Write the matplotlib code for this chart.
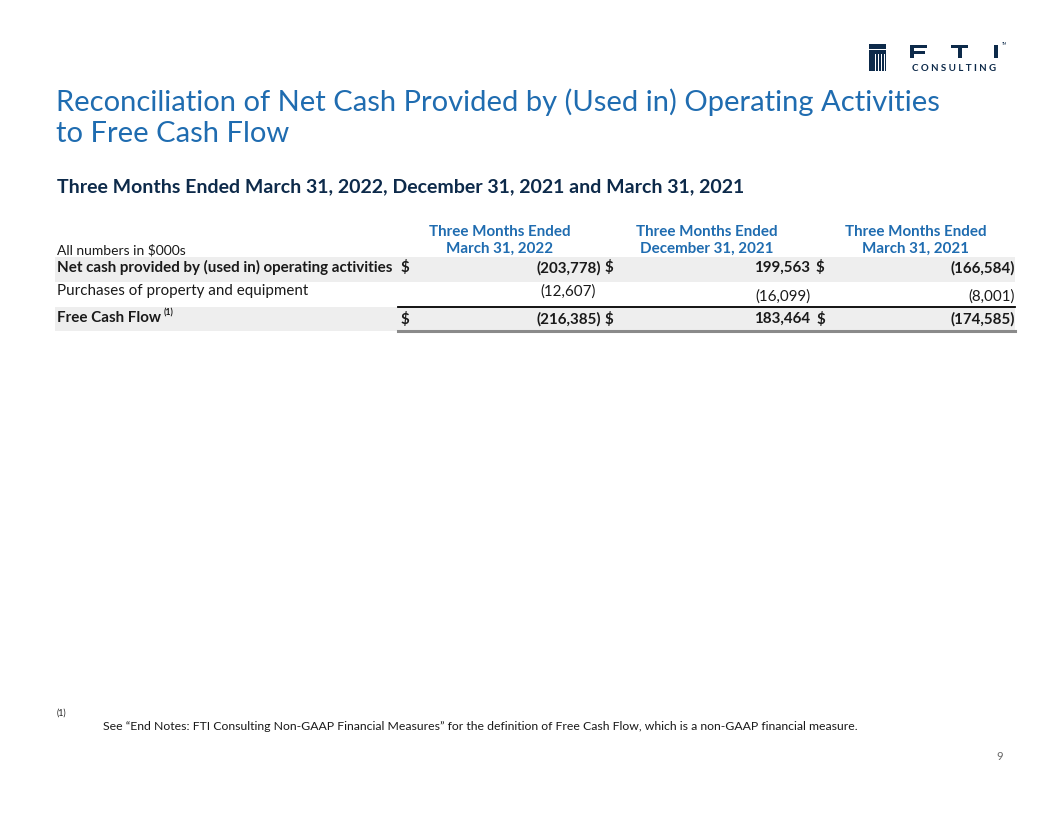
import matplotlib
matplotlib.use("Agg")
import matplotlib.pyplot as plt
from matplotlib.patches import Rectangle

plt.rcParams['font.family'] = ['Lato', 'DejaVu Sans']

# ---- data ----
title_lines = ["Reconciliation of Net Cash Provided by (Used in) Operating Activities",
               "to Free Cash Flow"]
subtitle = "Three Months Ended March 31, 2022, December 31, 2021 and March 31, 2021"
units_label = "All numbers in $000s"
col_headers = ["Three Months Ended\nMarch 31, 2022",
               "Three Months Ended\nDecember 31, 2021",
               "Three Months Ended\nMarch 31, 2021"]
row_labels = ["Net cash provided by (used in) operating activities",
              "Purchases of property and equipment",
              "Free Cash Flow"]
op_cash = [-203778, 199563, -166584]
capex = [-12607, -16099, -8001]
free_cash_flow = [-216385, 183464, -174585]
footnote = ("See \u201cEnd Notes: FTI Consulting Non-GAAP Financial Measures\u201d for the definition "
            "of Free Cash Flow, which is a non-GAAP financial measure.")
page_num = "9"

TITLE_BLUE = "#1f6cb0"
NAVY = "#0d2a4a"
HDR_BLUE = "#1f6cb0"
GRAY = "#eeeeee"
TXT = "#1a1a1a"

W, H = 1056, 816
fig = plt.figure(figsize=(W / 100, H / 100), dpi=100)
ax = fig.add_axes([0, 0, 1, 1])
ax.set_xlim(0, W)
ax.set_ylim(H, 0)
ax.axis('off')


def fmt(v):
    s = f"{abs(v):,}"
    return f"({s})" if v < 0 else s


def rect(x0, y0, x1, y1, c=NAVY):
    ax.add_patch(Rectangle((x0, y0), x1 - x0, y1 - y0, color=c, lw=0))


# title
ax.text(56, 102, title_lines[0], fontsize=21.0, color=TITLE_BLUE, va='center', ha='left')
ax.text(56, 134, title_lines[1], fontsize=21.0, color=TITLE_BLUE, va='center', ha='left')
ax.text(57, 187, subtitle, fontsize=14.0, color=NAVY, fontweight='bold', va='center', ha='left')

# logo (pillar icon + FTI letters)
rect(869, 44, 886, 71)
rect(869, 49, 886, 50.3, 'white')
for i in range(4):
    rect(874.5 + i * 3, 54, 875.7 + i * 3, 71, 'white')
# F
rect(910, 45, 914, 58); rect(910, 45, 927, 48); rect(910, 50.5, 925, 53.5)
# T
rect(951, 45, 968, 48); rect(957.5, 45, 961.5, 58)
# I
rect(994, 45, 998, 58)
ax.text(1005, 44, "TM", fontsize=2.5, color=NAVY, ha='center', va='center')
ax.text(954, 68.5, "C O N S U L T I N G", fontsize=7.0, color=NAVY, fontweight='bold',
        ha='center', va='center')

# table geometry
label_x0 = 55
val_x1 = 1015
line_x0 = 398
row_y = [257, 282, 307]
row_h = [25, 24, 23.5]
row_fill = [True, False, True]
for y, h, f in zip(row_y, row_h, row_fill):
    if f:
        rect(label_x0, y, val_x1, y + h, GRAY)
ax.plot([line_x0, val_x1], [306.5, 306.5], color='black', lw=1.3)
ax.plot([line_x0, val_x1], [331, 331], color='#8a8a8a', lw=2.2)

# headers
hdr_cx = [500, 707, 916]
for cx, hdr in zip(hdr_cx, col_headers):
    a, b = hdr.split("\n")
    ax.text(cx, 232, a, fontsize=10.9, color=HDR_BLUE, fontweight='bold', ha='center', va='center')
    ax.text(cx, 249, b, fontsize=10.9, color=HDR_BLUE, fontweight='bold', ha='center', va='center')
ax.text(57, 250, units_label, fontsize=10.0, color=TXT, ha='left', va='center')

# rows
rows = [op_cash, capex, free_cash_flow]
row_cy = [268, 292, 319]
bold = [True, False, True]
dollar_x = [[405, 609, 820], [None, None, None], [405, 609, 821]]
val_right = [[601, 810, 1015], [596, 810, 1015], [601, 810, 1015]]
row2_dy = [0, 5, 5]
FS = 10.9
for r, (vals, cy, b) in enumerate(zip(rows, row_cy, bold)):
    fw = 'bold' if b else 'normal'
    ax.text(57, cy - 1, row_labels[r], fontsize=FS, color=TXT, fontweight=fw,
            ha='left', va='center')
    if r == 2:
        ax.text(164, cy - 6, "(1)", fontsize=6.3, color=TXT, fontweight=fw, ha='left', va='center')
    for c, v in enumerate(vals):
        dy = row2_dy[c] if r == 1 else 0
        ax.text(val_right[r][c], cy + dy, fmt(v), fontsize=FS, color=TXT, fontweight=fw,
                ha='right', va='center')
        dx = dollar_x[r][c]
        if dx is not None:
            ax.text(dx, cy, "$", fontsize=FS, color=TXT, fontweight=fw, ha='center', va='center')

# footnote
ax.text(57, 713, "(1)", fontsize=6.3, color=TXT, ha='left', va='center')
ax.text(103, 726, footnote, fontsize=8.8, color=TXT, ha='left', va='center')
ax.text(1000, 757, page_num, fontsize=8, color='#666666', ha='center', va='center')

fig.savefig("out.png", dpi=100, facecolor='white')
